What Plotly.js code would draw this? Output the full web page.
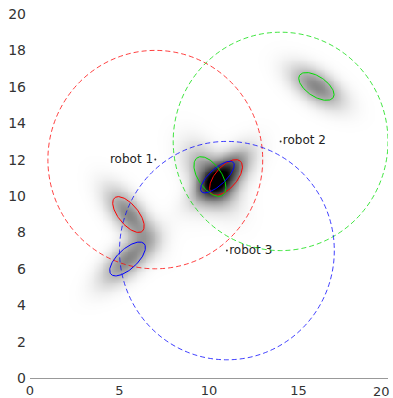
<!DOCTYPE html>
<html>
<head>
<meta charset="utf-8">
<script src="https://cdn.plot.ly/plotly-3.0.1.min.js"></script>
<style>html,body{margin:0;padding:0;background:#fff;}#chart{width:393px;height:398px;}</style>
</head>
<body>
<div id="chart"></div>
<script>
// Robots (range circles)
const robotNames = ["robot 1", "robot 2", "robot 3"];
const robotX = [7, 14, 11];
const robotY = [12, 13, 7];
const robotR = [6, 6, 6];
const robotColors = ["rgba(255,0,0,0.75)", "rgba(0,220,0,0.75)", "rgba(0,0,255,0.75)"];
const robotLabelPos = ["middle left", "middle right", "middle right"];

// Uncertainty ellipses: owner robot, centre, semi-axes, angle (deg)
const ellRobot = [0, 0, 1, 1, 2, 2];
const ellCx = [5.5, 10.95, 16.0, 10.05, 5.45, 10.47];
const ellCy = [8.98, 11.02, 16.02, 11.07, 6.54, 11.04];
const ellA = [1.2, 1.2, 1.12, 1.25, 1.25, 1.2];
const ellB = [0.55, 0.6, 0.55, 0.65, 0.55, 0.45];
const ellAng = [-50, 48, -33, -55, 42, 42];
const ellColors = ["#ff0000", "#00dd00", "#0000ff"];

// tick labels
const xTicks = [0, 5, 10, 15, 20];
const yTicks = [0, 2, 4, 6, 8, 10, 12, 14, 16, 18, 20];

// grid for the density image
const gridStep = 0.1;
const blobSpread = 1.0;

const xs = [], ys = [];
for (let i = 0; i <= 200; i++) { xs.push(+(i * gridStep).toFixed(2)); ys.push(+(i * gridStep).toFixed(2)); }
const z = ys.map(y => xs.map(x => {
  let s = 0;
  for (let k = 0; k < ellCx.length; k++) {
    const t = ellAng[k] * Math.PI / 180;
    const dx = x - ellCx[k], dy = y - ellCy[k];
    const u = dx * Math.cos(t) + dy * Math.sin(t);
    const v = -dx * Math.sin(t) + dy * Math.cos(t);
    s += Math.exp(-0.5 * ((u / (ellA[k] * blobSpread)) ** 2 + (v / (ellB[k] * blobSpread)) ** 2));
  }
  return s;
}));

const traces = [{
  type: "heatmap", x: xs, y: ys, z: z, zsmooth: "best", showscale: false,
  zmin: 0, zmax: 2.2, hoverinfo: "skip",
  colorscale: [[0, "#ffffff"], [0.45, "#888888"], [1, "#000000"]]
}];

for (let k = 0; k < ellCx.length; k++) {
  const t = ellAng[k] * Math.PI / 180;
  const ex = [], ey = [];
  for (let j = 0; j <= 120; j++) {
    const p = 2 * Math.PI * j / 120;
    const u = ellA[k] * Math.cos(p), v = ellB[k] * Math.sin(p);
    ex.push(ellCx[k] + u * Math.cos(t) - v * Math.sin(t));
    ey.push(ellCy[k] + u * Math.sin(t) + v * Math.cos(t));
  }
  traces.push({type: "scatter", mode: "lines", x: ex, y: ey, hoverinfo: "skip",
    line: {color: ellColors[ellRobot[k]], width: 1}, showlegend: false});
}

for (let r = 0; r < robotX.length; r++) {
  traces.push({type: "scatter", mode: "markers+text", x: [robotX[r]], y: [robotY[r]],
    text: [robotNames[r]], textposition: robotLabelPos[r],
    textfont: {family: "DejaVu Sans", size: 12, color: "#222"},
    marker: {size: 2, color: "#333"}, showlegend: false, hoverinfo: "skip"});
}

const shapes = robotX.map((cx, r) => ({
  type: "circle", xref: "x", yref: "y",
  x0: cx - robotR[r], x1: cx + robotR[r], y0: robotY[r] - robotR[r], y1: robotY[r] + robotR[r],
  line: {color: robotColors[r], width: 1, dash: "5px,3px"}
}));

const lastX = xTicks[xTicks.length - 1];
const layout = {
  width: 393, height: 398,
  margin: {l: 30, r: 5, t: 14, b: 20},
  paper_bgcolor: "#fff", plot_bgcolor: "#fff",
  showlegend: false,
  font: {family: "DejaVu Sans", size: 13, color: "#333"},
  xaxis: {range: [0, 20], tickvals: xTicks.slice(0, -1), showgrid: false, zeroline: false,
    showline: true, linecolor: "#999", linewidth: 1, ticks: "", fixedrange: true,
    tickfont: {size: 13}},
  yaxis: {range: [0, 20], tickvals: yTicks, showgrid: false,
    zeroline: false, showline: false, ticks: "", fixedrange: true, ticklabelstandoff: 3,
    tickfont: {size: 14}},
  annotations: [{xref: "x", yref: "paper", x: lastX, y: 0, text: String(lastX),
    showarrow: false, xanchor: "right", yanchor: "top", xshift: 4, yshift: -4,
    font: {family: "DejaVu Sans", size: 13, color: "#333"}}],
  shapes: shapes
};

Plotly.newPlot("chart", traces, layout, {displayModeBar: false, staticPlot: true});
</script>
</body>
</html>
